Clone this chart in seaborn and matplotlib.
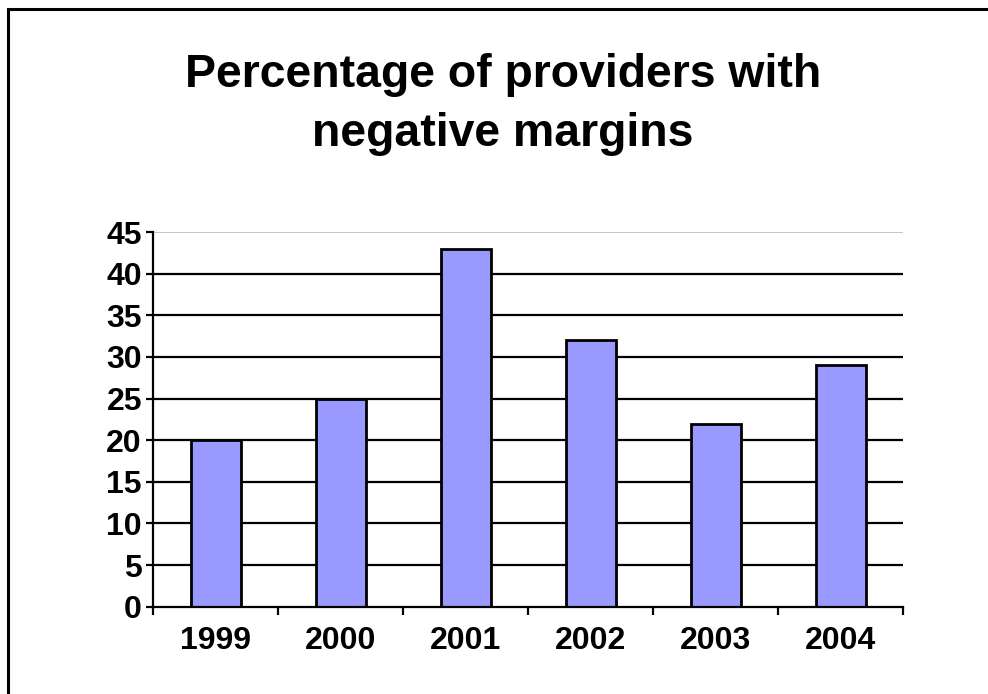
import matplotlib
matplotlib.use("Agg")
import matplotlib.pyplot as plt
import matplotlib.patches as mpatches
import seaborn as sns
import pandas as pd
import numpy as np

years = ["1999", "2000", "2001", "2002", "2003", "2004"]
pct_negative = [20, 25, 43, 32, 22, 29]
y_ticks = [0, 5, 10, 15, 20, 25, 30, 35, 40, 45]
title_text = "Percentage of providers with\nnegative margins"

sns.set_theme(style="white")
plt.rcParams["font.family"] = ["Liberation Sans", "DejaVu Sans"]

df = pd.DataFrame({"year": years, "pct": pct_negative})

fig = plt.figure(figsize=(9.88, 6.94), dpi=100)
ax = fig.add_axes([153 / 988, 87.3 / 694, 750 / 988, 374.7 / 694])

sns.barplot(data=df, x="year", y="pct", ax=ax, color="#9999FF",
            saturation=1, width=0.4, edgecolor="black", linewidth=2)

ax.set_xlim(-0.5, len(years) - 0.5)
ax.set_ylim(0, 45)
ax.set_yticks(y_ticks)
ax.set_xlabel("")
ax.set_ylabel("")

# horizontal gridlines behind bars; top line in light grey
ax.set_axisbelow(True)
for v in y_ticks[1:-1]:
    ax.axhline(v, color="black", lw=1.6, zorder=0)
ax.axhline(45, color="#BDBDBD", lw=1.2, zorder=0)

for side in ["top", "right"]:
    ax.spines[side].set_visible(False)
for side in ["left", "bottom"]:
    ax.spines[side].set_color("black")
    ax.spines[side].set_linewidth(1.6)

# ticks: y outward, x at category boundaries
ax.tick_params(axis="y", which="major", direction="out", length=5, width=1.6,
               color="black", left=True, labelsize=23, pad=3)
ax.set_xticks(np.arange(-0.5, len(years), 1.0), minor=True)
ax.tick_params(axis="x", which="minor", direction="out", length=6, width=1.6,
               color="black", bottom=True)
ax.tick_params(axis="x", which="major", length=0, labelsize=23, pad=14)
for lab in ax.get_xticklabels() + ax.get_yticklabels():
    lab.set_fontweight("bold")
    lab.set_color("black")

fig.text(503 / 988, 1 - 53 / 694, title_text, ha="center", va="top",
         fontsize=33.4, fontweight="bold", color="black", linespacing=1.45)

# outer frame around the chart area
frame = mpatches.Rectangle((8 / 988, -0.1), 1.2, 1 - 9 / 694 + 0.1,
                           transform=fig.transFigure, fill=False,
                           edgecolor="black", linewidth=2.2, clip_on=False)
fig.patches.append(frame)

fig.savefig("out.png", dpi=100)
